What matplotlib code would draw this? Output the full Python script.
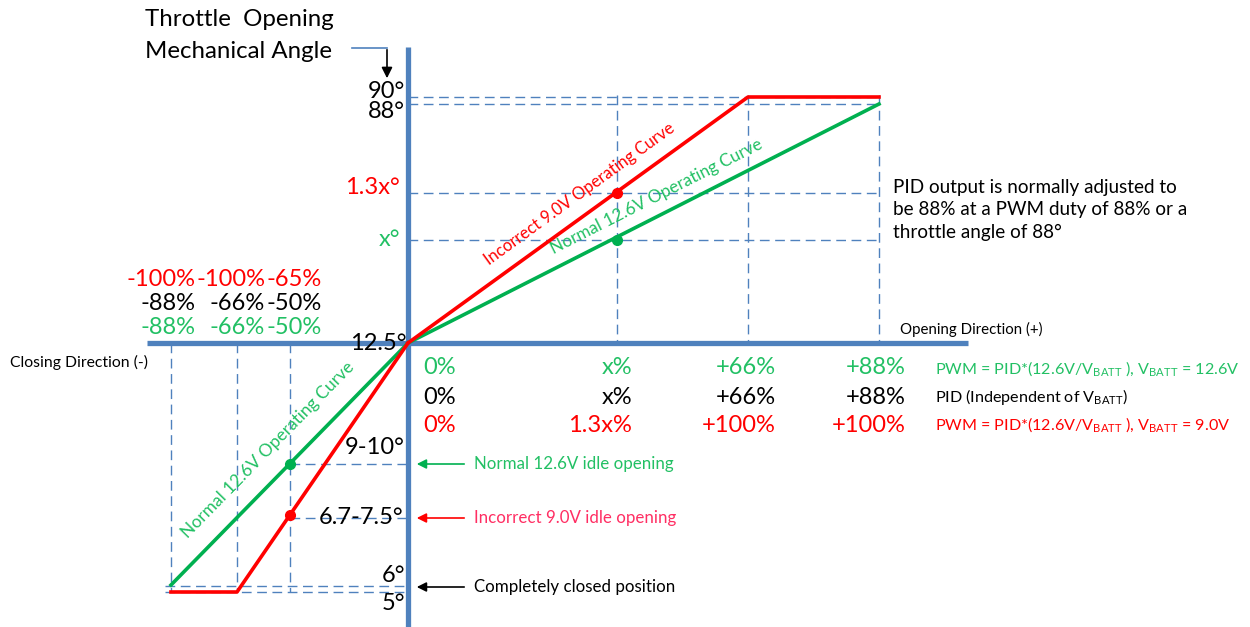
import matplotlib
matplotlib.use('Agg')
import matplotlib.pyplot as plt

plt.rcParams['font.family'] = ['Lato', 'DejaVu Sans']
plt.rcParams['mathtext.fontset'] = 'custom'
plt.rcParams['mathtext.rm'] = 'Lato'
plt.rcParams['mathtext.it'] = 'Lato:italic'

RED = '#FF0000'
GREEN = '#00B050'
LGREEN = '#22C064'
BLUE = '#4F81BD'
PINK = '#FF2E63'

# schematic coordinates (x right, y down)
red_up_x = [408, 748, 879]
red_up_y = [343, 97, 97]
green_up_x = [408, 879]
green_up_y = [343, 104]
red_lo_x = [408, 237, 171]
red_lo_y = [343, 592, 592]
green_lo_x = [408, 171]
green_lo_y = [343, 585]
dots_red = ([617, 290], [193, 515])
dots_green = ([617, 290], [240, 464])

# guide lines
up_h_y = [97, 104, 193, 240]          # 90, 88, 1.3x, x degrees
up_v_x = [617, 748, 879]              # x%, 66%, 88%
lo_v_x = [171, 237, 290]              # -88%, -66%, -50%
lo_h = [(290, 464), (290, 518), (165, 586), (165, 592)]

# percentage labels
pos_x_lab = [632, 776, 906]
pos_green = ['x%', '+66%', '+88%']
pos_black = ['x%', '+66%', '+88%']
pos_red = ['1.3x%', '+100%', '+100%']
neg_x_lab = [195, 265, 322]
neg_red = ['-100%', '-100%', '-65%']
neg_black = ['-88%', '-66%', '-50%']
neg_green = ['-88%', '-66%', '-50%']

fig = plt.figure(figsize=(12.5, 6.27), dpi=100)
ax = fig.add_axes([0, 0, 1, 1])
ax.set_xlim(0, 1250)
ax.set_ylim(627, 0)
ax.axis('off')

dash = dict(color=BLUE, lw=1.0, dashes=(7, 4), zorder=1)
for y in up_h_y:
    ax.plot([408, 879], [y, y], **dash)
for x in up_v_x:
    ax.plot([x, x], [95, 343], **dash)
for x in lo_v_x:
    ax.plot([x, x], [343, 592], **dash)
for x0, y in lo_h:
    ax.plot([x0, 408], [y, y], **dash)

# axes
ax.plot([408, 408], [47, 627], color=BLUE, lw=3.8, solid_capstyle='butt', zorder=2)
ax.plot([147, 968], [343, 343], color=BLUE, lw=3.8, solid_capstyle='butt', zorder=2)

# curves
ax.plot(red_up_x, red_up_y, color=RED, lw=2.6, zorder=4)
ax.plot(green_up_x, green_up_y, color=GREEN, lw=2.6, zorder=3)
ax.plot(red_lo_x, red_lo_y, color=RED, lw=2.6, zorder=4)
ax.plot(green_lo_x, green_lo_y, color=GREEN, lw=2.6, zorder=3)
ax.plot(*dots_red, 'o', color=RED, ms=7, zorder=5)
ax.plot(*dots_green, 'o', color=GREEN, ms=7, zorder=5)

# title with arrow
ax.text(145, 19, 'Throttle  Opening', fontsize=17.3, va='center', ha='left')
ax.text(145, 51, 'Mechanical Angle', fontsize=17.3, va='center', ha='left')
ax.plot([352, 387], [48, 48], color=BLUE, lw=1.2)
ax.annotate('', xy=(387, 81), xytext=(387, 47),
            arrowprops=dict(arrowstyle='-|>', color='black', lw=1.2, mutation_scale=16))

# degree labels
big = 17
ax.text(405, 91, '90°', fontsize=big, ha='right', va='center')
ax.text(405, 112, '88°', fontsize=big, ha='right', va='center')
ax.text(400, 187, '1.3x°', fontsize=big, ha='right', va='center', color=RED)
ax.text(400, 240, 'x°', fontsize=big, ha='right', va='center', color=LGREEN)
ax.text(407, 344, '12.5°', fontsize=big, ha='right', va='center', zorder=6)
ax.text(405, 448, '9-10°', fontsize=big, ha='right', va='center')
ax.text(403, 518, '6.7-7.5°', fontsize=big, ha='right', va='center')
ax.text(405, 575, '6°', fontsize=big, ha='right', va='center')
ax.text(405, 603, '5°', fontsize=big, ha='right', va='center')

# percent labels
for col, row, y in [(LGREEN, pos_green, 367), ('black', pos_black, 397), (RED, pos_red, 425)]:
    ax.text(423, y, '0%', fontsize=big, ha='left', va='center', color=col)
    for x, s in zip(pos_x_lab, row):
        ax.text(x, y, s, fontsize=big, ha='right', va='center', color=col)
for col, row, y in [(RED, neg_red, 280), ('black', neg_black, 303), (LGREEN, neg_green, 327)]:
    for x, s in zip(neg_x_lab, row):
        ax.text(x, y, s, fontsize=big, ha='right', va='center', color=col)

# direction labels
ax.text(10, 362, 'Closing Direction (-)', fontsize=11.3, va='center')
ax.text(900, 329, 'Opening Direction (+)', fontsize=10.8, va='center')

# formulas
vb = r'$\mathrm{V}_{\mathrm{BATT}}$'
ax.text(935, 369, 'PWM = PID*(12.6V/' + vb + ' ), ' + vb + ' = 12.6V', fontsize=11.6,
        va='center', color=LGREEN)
ax.text(935, 397, 'PID (Independent of ' + vb + ')', fontsize=11.6, va='center')
ax.text(935, 425, 'PWM = PID*(12.6V/' + vb + ' ), ' + vb + ' = 9.0V', fontsize=11.6,
        va='center', color=RED)

# note
ax.text(893, 210, 'PID output is normally adjusted to\nbe 88% at a PWM duty of 88% or a\nthrottle angle of 88°',
        fontsize=13.6, va='center', ha='left', linespacing=1.4)

# curve labels
ax.text(580, 194, 'Incorrect 9.0V Operating Curve', fontsize=12, color=RED,
        rotation=35.9, rotation_mode='anchor', ha='center', va='center')
ax.text(656, 197, 'Normal 12.6V Operating Curve', fontsize=12.3, color=LGREEN,
        rotation=26.9, rotation_mode='anchor', ha='center', va='center')
ax.text(268, 450, 'Normal 12.6V Operating Curve', fontsize=12.5, color=LGREEN,
        rotation=45.6, rotation_mode='anchor', ha='center', va='center')

# idle arrows
for y, col, s in [(464, GREEN, 'Normal 12.6V idle opening'),
                  (518, RED, 'Incorrect 9.0V idle opening'),
                  (587, 'black', 'Completely closed position')]:
    ax.annotate('', xy=(414, y), xytext=(467, y),
                arrowprops=dict(arrowstyle='-|>', color=col, lw=1.2, mutation_scale=14))
    tcol = PINK if col == RED else (LGREEN if col == GREEN else 'black')
    ax.text(474, y, s, fontsize=12.2, va='center', color=tcol)

fig.savefig('out.png', dpi=100)
